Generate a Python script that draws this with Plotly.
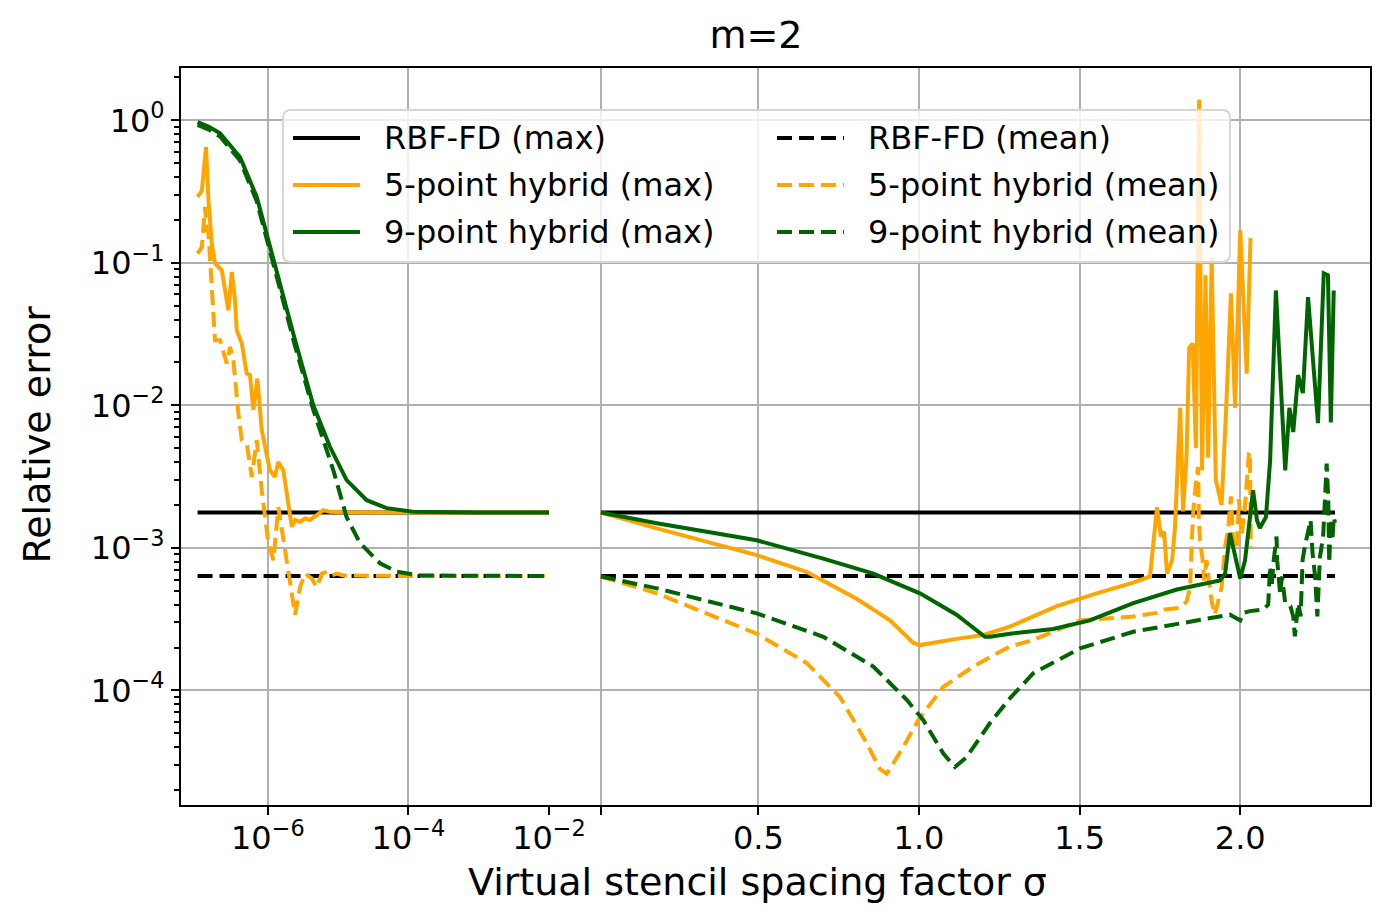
import plotly.graph_objects as go

# --- values ---
RBF_MAX = 1.77e-3
RBF_MEAN = 6.35e-4

# sigma range of the two halves of the broken axis
sigma_lo_span = [1e-7, 1e-2]
sigma_hi_span = [0.01, 2.295]

# small sigma (log part)
p5_max_lo_x = [1.0e-7, 1.15e-7, 1.32e-7, 1.43e-7, 1.59e-7, 1.77e-7, 2.21e-7, 2.74e-7, 3.07e-7,
               3.41e-7, 3.61e-7, 4.26e-7, 5.01e-7, 5.58e-7, 6.22e-7, 7.10e-7, 8.19e-7, 1.07e-6,
               1.26e-6, 1.41e-6, 1.66e-6, 1.96e-6, 2.19e-6, 2.44e-6, 2.87e-6, 3.38e-6, 3.98e-6,
               4.96e-6, 6.17e-6, 7.67e-6, 1.19e-5, 1e-4, 1e-2]
p5_max_lo_y = [0.29, 0.32, 0.65, 0.275, 0.137, 0.099, 0.0887, 0.0465, 0.0863,
               0.0547, 0.0337, 0.0272, 0.0167, 0.0163, 0.0093, 0.0154, 0.0067, 0.0035,
               0.00315, 0.0040, 0.0035, 0.00205, 0.00141, 0.00157, 0.00152, 0.00161, 0.00157,
               0.0017, 0.00184, 0.00179, 0.00178, 0.00177, 0.00177]

p5_mean_lo_x = [1.0e-7, 1.15e-7, 1.28e-7, 1.35e-7, 1.43e-7, 1.59e-7, 1.77e-7, 2.09e-7, 2.60e-7,
                2.90e-7, 3.23e-7, 3.80e-7, 4.26e-7, 5.01e-7, 5.90e-7, 6.95e-7, 8.19e-7, 1.02e-6,
                1.20e-6, 1.41e-6, 1.58e-6, 1.86e-6, 2.19e-6, 2.44e-6, 2.87e-6, 3.38e-6, 4.21e-6,
                4.96e-6, 5.85e-6, 6.89e-6, 8.11e-6, 9.55e-6, 1.19e-5, 1e-4, 1e-2]
p5_mean_lo_y = [0.116, 0.129, 0.247, 0.169, 0.161, 0.0678, 0.0286, 0.0286, 0.0197,
                0.0257, 0.0207, 0.0088, 0.0057, 0.0054, 0.00315, 0.0057, 0.00254, 0.00107,
                0.00082, 0.00193, 0.00133, 0.00078, 0.00045, 0.00034, 0.00053, 0.00066, 0.00061,
                0.00053, 0.00066, 0.00068, 0.00064, 0.00066, 0.00064, 0.000635, 0.000635]

p9_max_lo_x = [1.0e-7, 1.45e-7, 2.09e-7, 4.03e-7, 6.95e-7, 1.07e-6, 1.49e-6, 2.44e-6, 4.43e-6,
               7.67e-6, 1.32e-5, 2.55e-5, 4.91e-5, 1.16e-4, 1e-3, 1e-2]
p9_max_lo_y = [0.97, 0.90, 0.81, 0.55, 0.29, 0.129, 0.0678, 0.0286, 0.0100,
               0.0051, 0.00299, 0.00216, 0.0019, 0.00179, 0.00177, 0.00177]

p9_mean_lo_x = [1.0e-7, 1.45e-7, 2.09e-7, 4.03e-7, 6.95e-7, 1.07e-6, 1.49e-6, 2.44e-6, 4.43e-6,
                8.55e-6, 1.32e-5, 2.05e-5, 3.94e-5, 6.82e-5, 1.46e-4, 1e-3, 1e-2]
p9_mean_lo_y = [0.93, 0.86, 0.77, 0.52, 0.27, 0.12, 0.063, 0.026, 0.0093,
                0.0035, 0.00164, 0.00108, 0.00078, 0.00068, 0.00064, 0.000635, 0.000635]

# larger sigma (linear part)
p5_max_hi_x = [0.01, 0.184, 0.495, 0.650, 0.806, 0.910, 0.982, 1.003, 1.117, 1.200, 1.283, 1.314,
               1.429, 1.553, 1.667, 1.719, 1.741, 1.753, 1.763, 1.772, 1.788, 1.797, 1.813, 1.822,
               1.833, 1.841, 1.852, 1.862, 1.872, 1.881, 1.892, 1.900, 1.911, 1.924, 1.942, 1.956,
               1.971, 1.984, 2.000, 2.020, 2.032]
p5_max_hi_y = [0.00177, 0.00137, 0.00089, 0.00068, 0.00044, 0.00031, 0.000216, 0.000208, 0.00023,
               0.000245, 0.00028, 0.0003, 0.00039, 0.00048, 0.00057, 0.00063, 0.00193, 0.0012,
               0.0013, 0.00066, 0.00082, 0.00141, 0.0096, 0.0018, 0.0045, 0.0252, 0.0272, 0.005,
               1.40, 0.0035, 0.0818, 0.0043, 0.109, 0.003, 0.002, 0.0093, 0.0612, 0.0096, 0.169,
               0.0167, 0.149]

p5_mean_hi_x = [0.01, 0.184, 0.495, 0.650, 0.754, 0.827, 0.879, 0.900, 0.951, 0.998, 1.076, 1.169,
                1.252, 1.283, 1.356, 1.501, 1.667, 1.741, 1.766, 1.813, 1.833, 1.844, 1.849, 1.854,
                1.864, 1.869, 1.871, 1.875, 1.882, 1.888, 1.895, 1.906, 1.911, 1.921, 1.942, 1.953,
                1.963, 1.971, 1.978, 1.989, 1.996, 2.004, 2.015, 2.027, 2.030, 2.033]
p5_mean_hi_y = [0.00063, 0.00048, 0.00025, 0.000156, 0.00009, 0.000047, 0.000028, 0.000026, 0.00004,
                0.000062, 0.000106, 0.000147, 0.000187, 0.000203, 0.000226, 0.00031, 0.00033,
                0.00035, 0.00037, 0.00038, 0.00042, 0.00053, 0.0011, 0.00184, 0.0032, 0.0037,
                0.0016, 0.0011, 0.00086, 0.00059, 0.00082, 0.00053, 0.00042, 0.00034, 0.00053,
                0.00102, 0.0014, 0.0023, 0.0011, 0.00097, 0.0022, 0.0012, 0.002, 0.0046, 0.0047,
                0.00102]

p9_max_hi_x = [0.01, 0.184, 0.495, 0.702, 0.858, 1.003, 1.117, 1.205, 1.221, 1.283, 1.418, 1.532,
               1.667, 1.803, 1.937, 1.953, 1.968, 1.984, 2.000, 2.015, 2.040, 2.052, 2.061, 2.080,
               2.093, 2.111, 2.140, 2.153, 2.165, 2.180, 2.195, 2.211, 2.242, 2.260, 2.273, 2.282,
               2.291]
p9_max_hi_y = [0.00177, 0.00149, 0.00113, 0.00084, 0.00066, 0.00048, 0.00034, 0.000238, 0.000238,
               0.00025, 0.00027, 0.00031, 0.00041, 0.00051, 0.00059, 0.00066, 0.00127, 0.00086,
               0.00061, 0.00082, 0.00254, 0.00157, 0.00138, 0.00164, 0.0041, 0.064, 0.0035,
               0.0096, 0.0065, 0.0163, 0.0122, 0.0574, 0.0075, 0.0845, 0.0818, 0.0076, 0.064]

p9_mean_hi_x = [0.01, 0.184, 0.495, 0.702, 0.858, 0.962, 1.013, 1.076, 1.112, 1.148, 1.221, 1.283,
                1.356, 1.501, 1.667, 1.823, 1.927, 1.968, 2.000, 2.009, 2.030, 2.072, 2.087, 2.093,
                2.098, 2.103, 2.113, 2.115, 2.124, 2.130, 2.140, 2.156, 2.165, 2.170, 2.175, 2.181,
                2.188, 2.194, 2.201, 2.212, 2.219, 2.225, 2.233, 2.240, 2.248, 2.258, 2.269, 2.274,
                2.277, 2.282, 2.287, 2.291, 2.295]
p9_mean_hi_y = [0.00063, 0.00052, 0.000347, 0.000238, 0.000147, 0.000086, 0.000062, 0.000036,
                0.000029, 0.000034, 0.000059, 0.000088, 0.000132, 0.000197, 0.000258, 0.0003,
                0.00033, 0.00034, 0.00031, 0.00035, 0.00036, 0.00037, 0.0004, 0.00074, 0.00053,
                0.00078, 0.0012, 0.00082, 0.00048, 0.00063, 0.00041, 0.00039, 0.00033, 0.00024,
                0.00031, 0.00041, 0.00033, 0.00082, 0.00102, 0.00133, 0.00157, 0.00092, 0.00063,
                0.00033, 0.00086, 0.0012, 0.0039, 0.0022, 0.00078, 0.0016, 0.00113, 0.00164, 0.0015]

lo_tick_vals = [1e-6, 1e-4, 1e-2]
lo_tick_text = ["10<sup>\u22126</sup>", "10<sup>\u22124</sup>", "10<sup>\u22122</sup>"]
hi_tick_vals = [0.01, 0.5, 1.0, 1.5, 2.0]
hi_tick_text = ["", "0.5", "1.0", "1.5", "2.0"]
y_tick_vals = [1e-4, 1e-3, 1e-2, 1e-1, 1]
y_tick_text = ["10<sup>\u22124</sup>", "10<sup>\u22123</sup>", "10<sup>\u22122</sup>",
               "10<sup>\u22121</sup>", "10<sup>0</sup>"]
y_minor_vals = [m * 10.0 ** e for e in range(-5, 1) for m in range(2, 10)
                if 1.6e-5 < m * 10.0 ** e < 2.3]

ORANGE = "#ffa500"
GREEN = "#006400"
FONT = "DejaVu Sans"
GRID = "#b0b0b0"
DASH = "15px,7px"
LW = 4

# page is drawn inside the body's 8px margin, so the figure is sized to fit the window
W, H = 1374, 905
ML, MR, MT, MB = 172, 11, 59, 107
PX0, PY0 = 8 + ML, 8 + MT          # plot area origin on the page
PW, PH = W - ML - MR, H - MT - MB


def px(x):
    return (x - PX0) / PW


def py(y):
    return 1 - (y - PY0) / PH


def curve(x, y, color, dash, name, xaxis):
    return go.Scatter(x=x, y=y, mode="lines", name=name, showlegend=False,
                      line=dict(color=color, width=LW, dash=dash),
                      xaxis=xaxis, yaxis="y", hoverinfo="skip")


series = [
    ("RBF-FD (max)", "black", "solid", [RBF_MAX, RBF_MAX], [RBF_MAX, RBF_MAX],
     sigma_lo_span, sigma_hi_span),
    ("RBF-FD (mean)", "black", DASH, [RBF_MEAN, RBF_MEAN], [RBF_MEAN, RBF_MEAN],
     sigma_lo_span, sigma_hi_span),
    ("5-point hybrid (max)", ORANGE, "solid", p5_max_lo_y, p5_max_hi_y, p5_max_lo_x, p5_max_hi_x),
    ("5-point hybrid (mean)", ORANGE, DASH, p5_mean_lo_y, p5_mean_hi_y, p5_mean_lo_x, p5_mean_hi_x),
    ("9-point hybrid (max)", GREEN, "solid", p9_max_lo_y, p9_max_hi_y, p9_max_lo_x, p9_max_hi_x),
    ("9-point hybrid (mean)", GREEN, DASH, p9_mean_lo_y, p9_mean_hi_y, p9_mean_lo_x, p9_mean_hi_x),
]

fig = go.Figure()
# empty full-width subplot so the horizontal grid runs across the axis break
fig.add_trace(go.Scatter(x=[None], y=[None], xaxis="x", yaxis="y", showlegend=False,
                         hoverinfo="skip"))
for name, color, dash, ylo, yhi, xlo, xhi in series:
    fig.add_trace(curve(xlo, ylo, color, dash, name, "x2"))
    fig.add_trace(curve(xhi, yhi, color, dash, name, "x3"))

# legend box (two columns, matplotlib-like), drawn over the data
lx0, lx1, ly0, ly1 = px(283), px(1230), py(262), py(110)
rx, ry = 8 / PW, 8 / PH
legend_path = (f"M{lx0 + rx},{ly0} L{lx1 - rx},{ly0} Q{lx1},{ly0} {lx1},{ly0 + ry} "
               f"L{lx1},{ly1 - ry} Q{lx1},{ly1} {lx1 - rx},{ly1} L{lx0 + rx},{ly1} "
               f"Q{lx0},{ly1} {lx0},{ly1 - ry} L{lx0},{ly0 + ry} Q{lx0},{ly0} {lx0 + rx},{ly0} Z")
shapes = [dict(type="path", path=legend_path, xref="paper", yref="paper", layer="above",
               fillcolor="rgba(255,255,255,0.8)", line=dict(color="#d6d6d6", width=2))]
annotations = []
col_x = [293, 777]
row_y = [138, 185, 232]
for i, (name, color, dash, *_rest) in enumerate(series):
    col, row = i % 2, i // 2
    x0 = col_x[col]
    yy = py(row_y[row])
    shapes.append(dict(type="line", xref="paper", yref="paper", layer="above",
                       x0=px(x0), x1=px(x0 + 67), y0=yy, y1=yy,
                       line=dict(color=color, width=LW, dash=dash)))
    annotations.append(dict(text=name, xref="paper", yref="paper", x=px(x0 + 89), y=yy,
                            xanchor="left", yanchor="middle", showarrow=False,
                            font=dict(size=32)))

shapes.append(dict(type="rect", xref="paper", yref="paper", x0=0, x1=1, y0=0, y1=1,
                   line=dict(color="black", width=2), layer="above"))

annotations += [
    dict(text="Virtual stencil spacing factor \u03c3", xref="paper", yref="paper",
         x=px(757), y=py(882), xanchor="center", yanchor="middle",
         showarrow=False, font=dict(size=38)),
    dict(text="Relative error", xref="paper", yref="paper", textangle=-90,
         x=px(36), y=py(434.5), xanchor="center", yanchor="middle",
         showarrow=False, font=dict(size=38)),
]

xcommon = dict(anchor="y", ticks="outside", ticklen=8, tickwidth=2, tickcolor="black",
               showgrid=True, gridcolor=GRID, gridwidth=2, showline=False, zeroline=False,
               tickfont=dict(size=32), automargin=False, ticklabelstandoff=-4)

fig.update_layout(
    width=W, height=H,
    margin=dict(l=ML, r=MR, t=MT, b=MB, autoexpand=False),
    plot_bgcolor="white", paper_bgcolor="white",
    font=dict(family=FONT, size=32, color="black"),
    title=dict(text="m=2", x=(756 - 8) / W, xanchor="center", xref="container",
               y=1 - (35 - 8) / H, yanchor="middle", yref="container", font=dict(size=38)),
    xaxis=dict(domain=[0, 1], range=[0, 1], visible=False, anchor="y", automargin=False),
    xaxis2=dict(domain=[0, px(549)], type="log", range=[-7.25, -2],
                tickvals=lo_tick_vals, ticktext=lo_tick_text, **xcommon),
    xaxis3=dict(domain=[px(597.7), 1], range=[0, 2.407],
                tickvals=hi_tick_vals, ticktext=hi_tick_text, **xcommon),
    yaxis=dict(type="log", range=[-4.811, 0.374], anchor="x",
               tickvals=y_tick_vals, ticktext=y_tick_text,
               ticks="outside", ticklen=8, tickwidth=2, tickcolor="black",
               showgrid=True, gridcolor=GRID, gridwidth=2, showline=False, zeroline=False,
               tickfont=dict(size=32), automargin=False,
               minor=dict(tickvals=y_minor_vals, ticks="outside", ticklen=5, tickwidth=1.5,
                          tickcolor="black", showgrid=False)),
    showlegend=False,
    shapes=shapes,
    annotations=annotations,
)

fig.write_html("out.html")
